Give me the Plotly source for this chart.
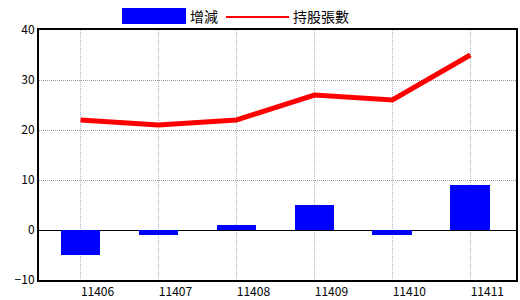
import plotly.graph_objects as go

categories = ["11406", "11407", "11408", "11409", "11410", "11411"]
change = [-5, -1, 1, 5, -1, 9]
holdings = [22, 21, 22, 27, 26, 35]

x = list(range(len(categories)))

fig = go.Figure()
fig.add_trace(go.Bar(x=x, y=change, name="增減", marker=dict(color="#0000FF", line=dict(width=0)),
                     width=0.51, showlegend=False))
fig.add_trace(go.Scatter(x=x, y=holdings, name="持股張數", mode="lines",
                         line=dict(color="#FF0000", width=5), showlegend=False))

tickfont = dict(family="Noto Sans CJK TC, Liberation Serif, serif", size=12, color="black")
fig.update_layout(
    width=520, height=300,
    margin=dict(l=39, r=4, t=30, b=20),
    paper_bgcolor="white", plot_bgcolor="white",
    font=dict(family="Noto Sans CJK TC, sans-serif", size=12, color="black"),
    xaxis=dict(range=[-0.533, 5.586], tickmode="array", tickvals=x, ticktext=categories,
               showgrid=True, gridcolor="#9DB5C8", griddash="1px,1px", gridwidth=1,
               showline=True, linecolor="black", linewidth=2, mirror=True,
               ticks="", ticklabelshift=17, zeroline=False, automargin=False,
               tickfont=tickfont),
    yaxis=dict(range=[-10, 40], tickvals=[-10, 0, 10, 20, 30, 40],
               showgrid=True, gridcolor="#999999", griddash="1px,1px", gridwidth=1,
               showline=True, linecolor="black", linewidth=2, mirror=True,
               zeroline=True, zerolinecolor="black", zerolinewidth=1, automargin=False,
               ticks="", tickfont=tickfont),
    bargap=0,
)

# custom legend
fig.add_shape(type="rect", xref="paper", yref="paper", x0=(122-39)/477, x1=(186-39)/477,
              y0=(280-24)/250, y1=(280-8)/250, fillcolor="#0000FF", line=dict(width=0))
fig.add_annotation(xref="paper", yref="paper", x=(188-39)/477, y=(280-16)/250, text="增減",
                   showarrow=False, xanchor="left", yanchor="middle",
                   font=dict(family="Noto Sans CJK TC", size=14, color="black"))
fig.add_shape(type="line", xref="paper", yref="paper", x0=(226-39)/477, x1=(289-39)/477,
              y0=(280-17)/250, y1=(280-17)/250, line=dict(color="#FF0000", width=2))
fig.add_annotation(xref="paper", yref="paper", x=(291-39)/477, y=(280-16)/250, text="持股張數",
                   showarrow=False, xanchor="left", yanchor="middle",
                   font=dict(family="Noto Sans CJK TC", size=14, color="black"))

fig.write_html("out.html")
